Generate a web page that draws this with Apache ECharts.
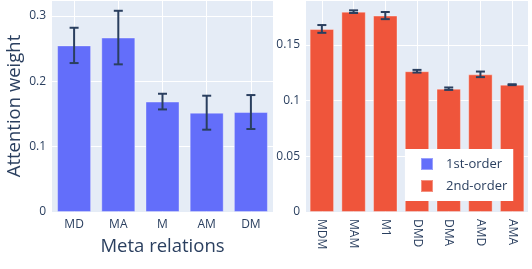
<!DOCTYPE html>
<html><head><meta charset="utf-8">
<script src="https://cdn.jsdelivr.net/npm/echarts@6/dist/echarts.min.js"></script>
<style>html,body{margin:0;padding:0;background:#fff}#c{width:532px;height:269px}</style>
</head><body><div id="c"></div>
<script>
const cats1 = ['MD','MA','M','AM','DM'];
const vals1 = [0.255, 0.267, 0.169, 0.152, 0.153];
const err1  = [0.027, 0.041, 0.012, 0.026, 0.026];
const cats2 = ['MDM','MAM','M1','DMD','DMA','AMD','AMA'];
const vals2 = [0.1645, 0.1800, 0.1765, 0.1265, 0.1108, 0.1237, 0.1144];
const err2  = [0.0035, 0.0012, 0.0032, 0.0012, 0.0011, 0.0025, 0.0004];
const names = ['1st-order','2nd-order'];

const font = '"Open Sans", sans-serif';
const txt = '#2a3f5f';
const errSeries = (cats, vals, errs, idx) => ({
  type: 'custom', xAxisIndex: idx, yAxisIndex: idx, silent: true, z: 10,
  data: vals.map((v, i) => [i, v, errs[i]]),
  renderItem: (params, api) => {
    const x = api.value(0), v = api.value(1), e = api.value(2);
    const top = api.coord([x, v + e]), bot = api.coord([x, v - e]);
    const w = 4.5;
    const st = {stroke: '#2a3f5f', lineWidth: 2};
    return {type: 'group', children: [
      {type: 'line', shape: {x1: top[0], y1: top[1], x2: bot[0], y2: bot[1]}, style: st},
      {type: 'line', shape: {x1: top[0]-w, y1: top[1], x2: top[0]+w, y2: top[1]}, style: st},
      {type: 'line', shape: {x1: bot[0]-w, y1: bot[1], x2: bot[0]+w, y2: bot[1]}, style: st}
    ]};
  }
});
const yAx = (idx, max, interval, name) => ({
  type: 'value', gridIndex: idx, min: 0, max: max, interval: interval,
  name: name, nameLocation: 'middle', nameGap: 28,
  nameTextStyle: {fontFamily: font, fontSize: 18.5, color: txt},
  axisLine: {show: false}, axisTick: {show: false},
  axisLabel: {fontFamily: font, fontSize: 12, color: txt, margin: 6, showMaxLabel: false},
  splitLine: {lineStyle: {color: '#fff', width: 1}}
});
const xAx = (idx, cats, name, rotate) => ({
  type: 'category', gridIndex: idx, data: cats,
  name: name, nameLocation: 'middle', nameGap: 25,
  nameTextStyle: {fontFamily: font, fontSize: 18.5, color: txt},
  axisLine: {show: false}, axisTick: {show: false},
  axisLabel: {fontFamily: font, fontSize: 12, color: txt, margin: 7, rotate: rotate, interval: 0},
  splitLine: {show: true, alignWithLabel: true, lineStyle: {color: '#fff', width: 1}}
});
const chart = echarts.init(document.getElementById('c'), null, {renderer: 'canvas'});
chart.setOption({
  animation: false,
  backgroundColor: '#fff',
  grid: [
    {left: 52, top: 0, width: 221, bottom: 57, show: true, backgroundColor: '#E5ECF6', borderWidth: 0},
    {left: 306, top: 0, right: 4, bottom: 57, show: true, backgroundColor: '#E5ECF6', borderWidth: 0}
  ],
  xAxis: [xAx(0, cats1, 'Meta relations', 0), xAx(1, cats2, '', -90)],
  yAxis: [yAx(0, 0.3245, 0.1, 'Attention weight'), yAx(1, 0.1905, 0.05, '')],
  legend: {
    orient: 'vertical', left: 405, top: 149, padding: [8, 6, 8, 15],
    backgroundColor: '#fff', itemGap: 8, itemWidth: 12, itemHeight: 12,
    icon: 'rect', data: names,
    textStyle: {fontFamily: font, fontSize: 13, color: txt, padding: [0, 0, 0, 8]}
  },
  series: [
    {name: names[0], type: 'bar', xAxisIndex: 0, yAxisIndex: 0, data: vals1, barCategoryGap: '23%',
     itemStyle: {color: '#636efa', borderColor: 'rgba(255,255,255,0.35)', borderWidth: 1}},
    {name: names[1], type: 'bar', xAxisIndex: 1, yAxisIndex: 1, data: vals2, barCategoryGap: '23%',
     itemStyle: {color: '#EF553B', borderColor: 'rgba(255,255,255,0.35)', borderWidth: 1}},
    errSeries(cats1, vals1, err1, 0),
    errSeries(cats2, vals2, err2, 1)
  ]
});
</script></body></html>
